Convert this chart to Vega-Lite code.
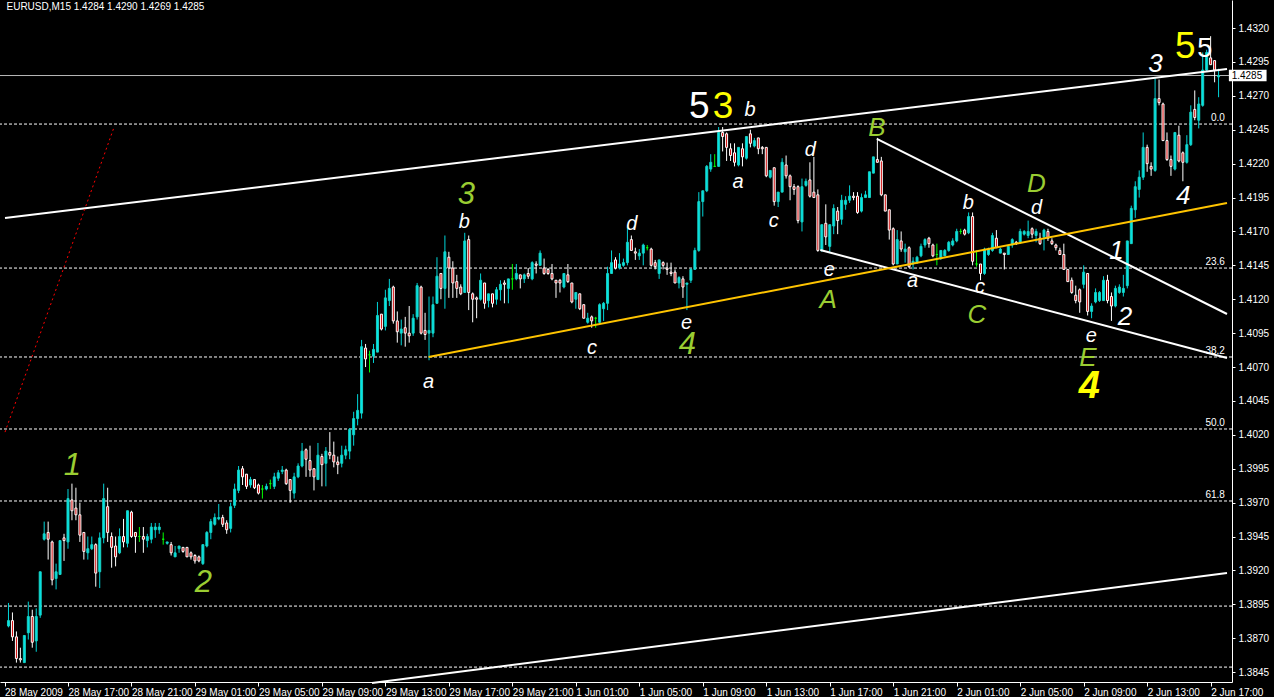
{
"$schema":"https://vega.github.io/schema/vega-lite/v6.json",
"width":1232,"height":682,
"autosize":{"type":"none"},
"padding":{"left":0,"top":0,"right":42,"bottom":15},
"background":"#000000",
"config":{"view":{"stroke":null},"font":"Liberation Sans",
 "axis":{"grid":false,"title":null,"labelColor":"#FFFFFF","tickColor":"#FFFFFF","domainColor":"#FFFFFF","labelFont":"Liberation Sans","labelFontSize":10,"labelOverlap":false,"labelSeparation":0},
 "axisY":{"labelOverlap":false,"labelBound":false},
 "axisQuantitative":{"labelOverlap":false}},
"datasets":{
"candles":[
{"n":0,"o":1.3879,"h":1.3896,"l":1.3878,"c":1.3883},
{"n":1,"o":1.3883,"h":1.3889,"l":1.3868,"c":1.3871},
{"n":2,"o":1.3871,"h":1.3875,"l":1.3852,"c":1.3855},
{"n":3,"o":1.3855,"h":1.3863,"l":1.3852,"c":1.3854},
{"n":4,"o":1.3852,"h":1.3872,"l":1.3852,"c":1.3872},
{"n":5,"o":1.3874,"h":1.3897,"l":1.3869,"c":1.3886},
{"n":6,"o":1.3886,"h":1.3891,"l":1.3863,"c":1.3867},
{"n":7,"o":1.3868,"h":1.3892,"l":1.3860,"c":1.3886},
{"n":8,"o":1.3887,"h":1.3919,"l":1.3885,"c":1.3919},
{"n":9,"o":1.3943,"h":1.3956,"l":1.3942,"c":1.3947},
{"n":10,"o":1.3948,"h":1.3956,"l":1.3928,"c":1.3943},
{"n":11,"o":1.3941,"h":1.3942,"l":1.3909,"c":1.3913},
{"n":12,"o":1.3914,"h":1.3925,"l":1.3906,"c":1.3919},
{"n":13,"o":1.3917,"h":1.3942,"l":1.3917,"c":1.3942},
{"n":14,"o":1.3944,"h":1.3947,"l":1.3927,"c":1.3942},
{"n":15,"o":1.3941,"h":1.3980,"l":1.3936,"c":1.3973},
{"n":16,"o":1.3972,"h":1.3984,"l":1.3957,"c":1.3964},
{"n":17,"o":1.3966,"h":1.3981,"l":1.3957,"c":1.3961},
{"n":18,"o":1.3961,"h":1.3970,"l":1.3941,"c":1.3946},
{"n":19,"o":1.3948,"h":1.3948,"l":1.3928,"c":1.3934},
{"n":20,"o":1.3933,"h":1.3945,"l":1.3928,"c":1.3936},
{"n":21,"o":1.3936,"h":1.3945,"l":1.3935,"c":1.3939},
{"n":22,"o":1.3939,"h":1.3940,"l":1.3908,"c":1.3918},
{"n":23,"o":1.3919,"h":1.3948,"l":1.3907,"c":1.3944},
{"n":24,"o":1.3944,"h":1.3984,"l":1.3940,"c":1.3973},
{"n":25,"o":1.3967,"h":1.3981,"l":1.3941,"c":1.3948},
{"n":26,"o":1.3945,"h":1.3948,"l":1.3922,"c":1.3937},
{"n":27,"o":1.3938,"h":1.3945,"l":1.3923,"c":1.3930},
{"n":28,"o":1.3933,"h":1.3951,"l":1.3932,"c":1.3945},
{"n":29,"o":1.3945,"h":1.3958,"l":1.3937,"c":1.3941},
{"n":30,"o":1.3940,"h":1.3964,"l":1.3937,"c":1.3964},
{"n":31,"o":1.3963,"h":1.3964,"l":1.3944,"c":1.3945},
{"n":32,"o":1.3948,"h":1.3948,"l":1.3933,"c":1.3945},
{"n":33,"o":1.3945,"h":1.3952,"l":1.3941,"c":1.3945},
{"n":34,"o":1.3945,"h":1.3952,"l":1.3933,"c":1.3943},
{"n":35,"o":1.3942,"h":1.3947,"l":1.3937,"c":1.3945},
{"n":36,"o":1.3943,"h":1.3955,"l":1.3940,"c":1.3952},
{"n":37,"o":1.3950,"h":1.3955,"l":1.3944,"c":1.3952},
{"n":38,"o":1.3950,"h":1.3955,"l":1.3947,"c":1.3952},
{"n":39,"o":1.3943,"h":1.3948,"l":1.3939,"c":1.3943},
{"n":40,"o":1.3940,"h":1.3941,"l":1.3939,"c":1.3941},
{"n":41,"o":1.3939,"h":1.3941,"l":1.3931,"c":1.3933},
{"n":42,"o":1.3930,"h":1.3938,"l":1.3930,"c":1.3933},
{"n":43,"o":1.3936,"h":1.3938,"l":1.3933,"c":1.3938},
{"n":44,"o":1.3937,"h":1.3937,"l":1.3933,"c":1.3934},
{"n":45,"o":1.3937,"h":1.3937,"l":1.3930,"c":1.3930},
{"n":46,"o":1.3933,"h":1.3934,"l":1.3928,"c":1.3930},
{"n":47,"o":1.3931,"h":1.3932,"l":1.3925,"c":1.3927},
{"n":48,"o":1.3930,"h":1.3931,"l":1.3926,"c":1.3927},
{"n":49,"o":1.3925,"h":1.3939,"l":1.3924,"c":1.3939},
{"n":50,"o":1.3938,"h":1.3949,"l":1.3937,"c":1.3948},
{"n":51,"o":1.3948,"h":1.3958,"l":1.3943,"c":1.3956},
{"n":52,"o":1.3954,"h":1.3962,"l":1.3953,"c":1.3959},
{"n":53,"o":1.3958,"h":1.3969,"l":1.3957,"c":1.3959},
{"n":54,"o":1.3959,"h":1.3961,"l":1.3952,"c":1.3954},
{"n":55,"o":1.3955,"h":1.3957,"l":1.3947,"c":1.3950},
{"n":56,"o":1.3951,"h":1.3970,"l":1.3948,"c":1.3967},
{"n":57,"o":1.3968,"h":1.3984,"l":1.3966,"c":1.3980},
{"n":58,"o":1.3979,"h":1.3997,"l":1.3977,"c":1.3994},
{"n":59,"o":1.3995,"h":1.3997,"l":1.3983,"c":1.3989},
{"n":60,"o":1.3991,"h":1.3991,"l":1.3980,"c":1.3982},
{"n":61,"o":1.3983,"h":1.3989,"l":1.3981,"c":1.3987},
{"n":62,"o":1.3987,"h":1.3987,"l":1.3980,"c":1.3981},
{"n":63,"o":1.3983,"h":1.3984,"l":1.3976,"c":1.3977},
{"n":64,"o":1.3980,"h":1.3983,"l":1.3973,"c":1.3980},
{"n":65,"o":1.3980,"h":1.3984,"l":1.3979,"c":1.3982},
{"n":66,"o":1.3984,"h":1.3987,"l":1.3980,"c":1.3984},
{"n":67,"o":1.3982,"h":1.3992,"l":1.3980,"c":1.3989},
{"n":68,"o":1.3988,"h":1.3994,"l":1.3986,"c":1.3992},
{"n":69,"o":1.3993,"h":1.3997,"l":1.3991,"c":1.3994},
{"n":70,"o":1.3994,"h":1.3995,"l":1.3983,"c":1.3984},
{"n":71,"o":1.3987,"h":1.3987,"l":1.3970,"c":1.3979},
{"n":72,"o":1.3977,"h":1.3992,"l":1.3973,"c":1.3989},
{"n":73,"o":1.3989,"h":1.3999,"l":1.3988,"c":1.3997},
{"n":74,"o":1.3997,"h":1.4014,"l":1.3996,"c":1.4008},
{"n":75,"o":1.4009,"h":1.4010,"l":1.3989,"c":1.4002},
{"n":76,"o":1.4001,"h":1.4012,"l":1.3989,"c":1.3994},
{"n":77,"o":1.3995,"h":1.3995,"l":1.3979,"c":1.3989},
{"n":78,"o":1.3987,"h":1.4014,"l":1.3987,"c":1.4005},
{"n":79,"o":1.4004,"h":1.4006,"l":1.3982,"c":1.3998},
{"n":80,"o":1.3999,"h":1.4011,"l":1.3982,"c":1.4008},
{"n":81,"o":1.4007,"h":1.4022,"l":1.4002,"c":1.4005},
{"n":82,"o":1.4005,"h":1.4015,"l":1.3996,"c":1.4000},
{"n":83,"o":1.4000,"h":1.4004,"l":1.3991,"c":1.3998},
{"n":84,"o":1.3999,"h":1.4012,"l":1.3996,"c":1.4005},
{"n":85,"o":1.4005,"h":1.4012,"l":1.4002,"c":1.4009},
{"n":86,"o":1.4008,"h":1.4025,"l":1.4002,"c":1.4024},
{"n":87,"o":1.4020,"h":1.4037,"l":1.4012,"c":1.4032},
{"n":88,"o":1.4032,"h":1.4050,"l":1.4027,"c":1.4038},
{"n":89,"o":1.4036,"h":1.4090,"l":1.4032,"c":1.4085},
{"n":90,"o":1.4084,"h":1.4087,"l":1.4070,"c":1.4076},
{"n":91,"o":1.4079,"h":1.4082,"l":1.4066,"c":1.4079},
{"n":92,"o":1.4078,"h":1.4087,"l":1.4073,"c":1.4083},
{"n":93,"o":1.4081,"h":1.4118,"l":1.4081,"c":1.4108},
{"n":94,"o":1.4109,"h":1.4109,"l":1.4097,"c":1.4098},
{"n":95,"o":1.4100,"h":1.4127,"l":1.4097,"c":1.4121},
{"n":96,"o":1.4119,"h":1.4135,"l":1.4115,"c":1.4128},
{"n":97,"o":1.4129,"h":1.4130,"l":1.4102,"c":1.4104},
{"n":98,"o":1.4104,"h":1.4111,"l":1.4088,"c":1.4096},
{"n":99,"o":1.4095,"h":1.4105,"l":1.4086,"c":1.4098},
{"n":100,"o":1.4099,"h":1.4107,"l":1.4085,"c":1.4095},
{"n":101,"o":1.4095,"h":1.4115,"l":1.4088,"c":1.4093},
{"n":102,"o":1.4095,"h":1.4109,"l":1.4093,"c":1.4106},
{"n":103,"o":1.4107,"h":1.4132,"l":1.4105,"c":1.4130},
{"n":104,"o":1.4129,"h":1.4130,"l":1.4094,"c":1.4095},
{"n":105,"o":1.4097,"h":1.4110,"l":1.4090,"c":1.4094},
{"n":106,"o":1.4095,"h":1.4122,"l":1.4075,"c":1.4097},
{"n":107,"o":1.4095,"h":1.4122,"l":1.4092,"c":1.4116},
{"n":108,"o":1.4117,"h":1.4151,"l":1.4117,"c":1.4137},
{"n":109,"o":1.4139,"h":1.4139,"l":1.4120,"c":1.4128},
{"n":110,"o":1.4128,"h":1.4167,"l":1.4113,"c":1.4155},
{"n":111,"o":1.4151,"h":1.4155,"l":1.4121,"c":1.4143},
{"n":112,"o":1.4143,"h":1.4148,"l":1.4121,"c":1.4132},
{"n":113,"o":1.4133,"h":1.4138,"l":1.4121,"c":1.4128},
{"n":114,"o":1.4129,"h":1.4131,"l":1.4123,"c":1.4124},
{"n":115,"o":1.4125,"h":1.4169,"l":1.4125,"c":1.4163},
{"n":116,"o":1.4164,"h":1.4167,"l":1.4112,"c":1.4125},
{"n":117,"o":1.4124,"h":1.4125,"l":1.4103,"c":1.4120},
{"n":118,"o":1.4121,"h":1.4122,"l":1.4106,"c":1.4120},
{"n":119,"o":1.4120,"h":1.4139,"l":1.4119,"c":1.4134},
{"n":120,"o":1.4132,"h":1.4132,"l":1.4113,"c":1.4117},
{"n":121,"o":1.4119,"h":1.4124,"l":1.4114,"c":1.4124},
{"n":122,"o":1.4124,"h":1.4124,"l":1.4114,"c":1.4117},
{"n":123,"o":1.4120,"h":1.4129,"l":1.4116,"c":1.4127},
{"n":124,"o":1.4127,"h":1.4134,"l":1.4119,"c":1.4131},
{"n":125,"o":1.4132,"h":1.4134,"l":1.4117,"c":1.4131},
{"n":126,"o":1.4128,"h":1.4135,"l":1.4117,"c":1.4135},
{"n":127,"o":1.4135,"h":1.4146,"l":1.4127,"c":1.4135},
{"n":128,"o":1.4135,"h":1.4146,"l":1.4134,"c":1.4139},
{"n":129,"o":1.4138,"h":1.4138,"l":1.4128,"c":1.4135},
{"n":130,"o":1.4135,"h":1.4139,"l":1.4132,"c":1.4138},
{"n":131,"o":1.4139,"h":1.4143,"l":1.4135,"c":1.4137},
{"n":132,"o":1.4135,"h":1.4148,"l":1.4134,"c":1.4147},
{"n":133,"o":1.4146,"h":1.4148,"l":1.4139,"c":1.4145},
{"n":134,"o":1.4145,"h":1.4156,"l":1.4145,"c":1.4154},
{"n":135,"o":1.4143,"h":1.4150,"l":1.4138,"c":1.4139},
{"n":136,"o":1.4142,"h":1.4143,"l":1.4138,"c":1.4139},
{"n":137,"o":1.4139,"h":1.4146,"l":1.4134,"c":1.4135},
{"n":138,"o":1.4134,"h":1.4134,"l":1.4121,"c":1.4132},
{"n":139,"o":1.4134,"h":1.4135,"l":1.4125,"c":1.4132},
{"n":140,"o":1.4129,"h":1.4139,"l":1.4128,"c":1.4139},
{"n":141,"o":1.4138,"h":1.4146,"l":1.4132,"c":1.4133},
{"n":142,"o":1.4132,"h":1.4132,"l":1.4117,"c":1.4118},
{"n":143,"o":1.4120,"h":1.4125,"l":1.4113,"c":1.4125},
{"n":144,"o":1.4124,"h":1.4124,"l":1.4112,"c":1.4113},
{"n":145,"o":1.4116,"h":1.4116,"l":1.4106,"c":1.4106},
{"n":146,"o":1.4103,"h":1.4110,"l":1.4102,"c":1.4106},
{"n":147,"o":1.4107,"h":1.4108,"l":1.4099,"c":1.4104},
{"n":148,"o":1.4106,"h":1.4107,"l":1.4099,"c":1.4106},
{"n":149,"o":1.4103,"h":1.4117,"l":1.4102,"c":1.4116},
{"n":150,"o":1.4113,"h":1.4118,"l":1.4104,"c":1.4117},
{"n":151,"o":1.4117,"h":1.4144,"l":1.4112,"c":1.4139},
{"n":152,"o":1.4139,"h":1.4156,"l":1.4139,"c":1.4147},
{"n":153,"o":1.4149,"h":1.4151,"l":1.4142,"c":1.4143},
{"n":154,"o":1.4143,"h":1.4154,"l":1.4142,"c":1.4146},
{"n":155,"o":1.4145,"h":1.4150,"l":1.4144,"c":1.4147},
{"n":156,"o":1.4147,"h":1.4173,"l":1.4145,"c":1.4162},
{"n":157,"o":1.4164,"h":1.4167,"l":1.4156,"c":1.4156},
{"n":158,"o":1.4155,"h":1.4158,"l":1.4149,"c":1.4154},
{"n":159,"o":1.4152,"h":1.4157,"l":1.4149,"c":1.4154},
{"n":160,"o":1.4154,"h":1.4161,"l":1.4145,"c":1.4160},
{"n":161,"o":1.4158,"h":1.4160,"l":1.4156,"c":1.4158},
{"n":162,"o":1.4157,"h":1.4158,"l":1.4144,"c":1.4145},
{"n":163,"o":1.4147,"h":1.4149,"l":1.4142,"c":1.4144},
{"n":164,"o":1.4139,"h":1.4149,"l":1.4135,"c":1.4149},
{"n":165,"o":1.4147,"h":1.4148,"l":1.4142,"c":1.4145},
{"n":166,"o":1.4143,"h":1.4147,"l":1.4138,"c":1.4142},
{"n":167,"o":1.4140,"h":1.4147,"l":1.4137,"c":1.4139},
{"n":168,"o":1.4140,"h":1.4142,"l":1.4132,"c":1.4132},
{"n":169,"o":1.4132,"h":1.4137,"l":1.4128,"c":1.4136},
{"n":170,"o":1.4135,"h":1.4137,"l":1.4121,"c":1.4129},
{"n":171,"o":1.4131,"h":1.4132,"l":1.4112,"c":1.4132},
{"n":172,"o":1.4134,"h":1.4143,"l":1.4132,"c":1.4142},
{"n":173,"o":1.4142,"h":1.4158,"l":1.4142,"c":1.4156},
{"n":174,"o":1.4156,"h":1.4199,"l":1.4155,"c":1.4192},
{"n":175,"o":1.4192,"h":1.4200,"l":1.4181,"c":1.4200},
{"n":176,"o":1.4200,"h":1.4219,"l":1.4199,"c":1.4218},
{"n":177,"o":1.4216,"h":1.4227,"l":1.4214,"c":1.4221},
{"n":178,"o":1.4218,"h":1.4227,"l":1.4218,"c":1.4218},
{"n":179,"o":1.4218,"h":1.4247,"l":1.4218,"c":1.4243},
{"n":180,"o":1.4243,"h":1.4247,"l":1.4229,"c":1.4240},
{"n":181,"o":1.4242,"h":1.4243,"l":1.4222,"c":1.4232},
{"n":182,"o":1.4231,"h":1.4235,"l":1.4222,"c":1.4226},
{"n":183,"o":1.4228,"h":1.4235,"l":1.4218,"c":1.4221},
{"n":184,"o":1.4219,"h":1.4232,"l":1.4218,"c":1.4232},
{"n":185,"o":1.4231,"h":1.4235,"l":1.4218,"c":1.4225},
{"n":186,"o":1.4224,"h":1.4240,"l":1.4223,"c":1.4240},
{"n":187,"o":1.4242,"h":1.4245,"l":1.4232,"c":1.4235},
{"n":188,"o":1.4233,"h":1.4239,"l":1.4232,"c":1.4237},
{"n":189,"o":1.4239,"h":1.4239,"l":1.4227,"c":1.4231},
{"n":190,"o":1.4232,"h":1.4233,"l":1.4227,"c":1.4231},
{"n":191,"o":1.4232,"h":1.4232,"l":1.4210,"c":1.4211},
{"n":192,"o":1.4210,"h":1.4215,"l":1.4209,"c":1.4215},
{"n":193,"o":1.4217,"h":1.4217,"l":1.4189,"c":1.4192},
{"n":194,"o":1.4192,"h":1.4199,"l":1.4188,"c":1.4199},
{"n":195,"o":1.4199,"h":1.4224,"l":1.4199,"c":1.4221},
{"n":196,"o":1.4219,"h":1.4226,"l":1.4209,"c":1.4211},
{"n":197,"o":1.4211,"h":1.4212,"l":1.4193,"c":1.4203},
{"n":198,"o":1.4203,"h":1.4205,"l":1.4197,"c":1.4201},
{"n":199,"o":1.4203,"h":1.4204,"l":1.4176,"c":1.4178},
{"n":200,"o":1.4177,"h":1.4209,"l":1.4170,"c":1.4203},
{"n":201,"o":1.4204,"h":1.4209,"l":1.4203,"c":1.4207},
{"n":202,"o":1.4208,"h":1.4221,"l":1.4195,"c":1.4196},
{"n":203,"o":1.4199,"h":1.4225,"l":1.4195,"c":1.4195},
{"n":204,"o":1.4197,"h":1.4201,"l":1.4155,"c":1.4156},
{"n":205,"o":1.4156,"h":1.4175,"l":1.4155,"c":1.4175},
{"n":206,"o":1.4176,"h":1.4190,"l":1.4160,"c":1.4166},
{"n":207,"o":1.4159,"h":1.4175,"l":1.4155,"c":1.4175},
{"n":208,"o":1.4174,"h":1.4190,"l":1.4168,"c":1.4187},
{"n":209,"o":1.4185,"h":1.4188,"l":1.4168,"c":1.4178},
{"n":210,"o":1.4179,"h":1.4197,"l":1.4175,"c":1.4193},
{"n":211,"o":1.4190,"h":1.4196,"l":1.4186,"c":1.4193},
{"n":212,"o":1.4193,"h":1.4204,"l":1.4191,"c":1.4196},
{"n":213,"o":1.4196,"h":1.4199,"l":1.4193,"c":1.4195},
{"n":214,"o":1.4196,"h":1.4199,"l":1.4183,"c":1.4184},
{"n":215,"o":1.4185,"h":1.4198,"l":1.4184,"c":1.4195},
{"n":216,"o":1.4195,"h":1.4200,"l":1.4195,"c":1.4197},
{"n":217,"o":1.4195,"h":1.4214,"l":1.4195,"c":1.4214},
{"n":218,"o":1.4213,"h":1.4225,"l":1.4213,"c":1.4225},
{"n":219,"o":1.4223,"h":1.4239,"l":1.4221,"c":1.4221},
{"n":220,"o":1.4222,"h":1.4225,"l":1.4196,"c":1.4197},
{"n":221,"o":1.4197,"h":1.4197,"l":1.4185,"c":1.4185},
{"n":222,"o":1.4186,"h":1.4186,"l":1.4164,"c":1.4171},
{"n":223,"o":1.4172,"h":1.4173,"l":1.4145,"c":1.4146},
{"n":224,"o":1.4146,"h":1.4171,"l":1.4146,"c":1.4164},
{"n":225,"o":1.4163,"h":1.4170,"l":1.4155,"c":1.4157},
{"n":226,"o":1.4155,"h":1.4161,"l":1.4147,"c":1.4157},
{"n":227,"o":1.4158,"h":1.4159,"l":1.4143,"c":1.4144},
{"n":228,"o":1.4146,"h":1.4151,"l":1.4142,"c":1.4148},
{"n":229,"o":1.4147,"h":1.4152,"l":1.4146,"c":1.4151},
{"n":230,"o":1.4152,"h":1.4161,"l":1.4151,"c":1.4159},
{"n":231,"o":1.4160,"h":1.4165,"l":1.4158,"c":1.4164},
{"n":232,"o":1.4165,"h":1.4166,"l":1.4158,"c":1.4161},
{"n":233,"o":1.4160,"h":1.4161,"l":1.4151,"c":1.4152},
{"n":234,"o":1.4153,"h":1.4161,"l":1.4145,"c":1.4153},
{"n":235,"o":1.4150,"h":1.4156,"l":1.4149,"c":1.4156},
{"n":236,"o":1.4152,"h":1.4157,"l":1.4152,"c":1.4156},
{"n":237,"o":1.4156,"h":1.4163,"l":1.4155,"c":1.4162},
{"n":238,"o":1.4160,"h":1.4165,"l":1.4159,"c":1.4163},
{"n":239,"o":1.4163,"h":1.4172,"l":1.4162,"c":1.4170},
{"n":240,"o":1.4170,"h":1.4172,"l":1.4168,"c":1.4170},
{"n":241,"o":1.4171,"h":1.4172,"l":1.4167,"c":1.4168},
{"n":242,"o":1.4169,"h":1.4184,"l":1.4168,"c":1.4181},
{"n":243,"o":1.4181,"h":1.4184,"l":1.4145,"c":1.4148},
{"n":244,"o":1.4146,"h":1.4156,"l":1.4144,"c":1.4146},
{"n":245,"o":1.4146,"h":1.4146,"l":1.4134,"c":1.4139},
{"n":246,"o":1.4139,"h":1.4158,"l":1.4138,"c":1.4157},
{"n":247,"o":1.4153,"h":1.4158,"l":1.4152,"c":1.4157},
{"n":248,"o":1.4156,"h":1.4169,"l":1.4155,"c":1.4167},
{"n":249,"o":1.4165,"h":1.4171,"l":1.4158,"c":1.4158},
{"n":250,"o":1.4154,"h":1.4158,"l":1.4154,"c":1.4157},
{"n":251,"o":1.4154,"h":1.4154,"l":1.4142,"c":1.4153},
{"n":252,"o":1.4153,"h":1.4160,"l":1.4153,"c":1.4159},
{"n":253,"o":1.4160,"h":1.4165,"l":1.4158,"c":1.4164},
{"n":254,"o":1.4162,"h":1.4163,"l":1.4160,"c":1.4161},
{"n":255,"o":1.4162,"h":1.4172,"l":1.4161,"c":1.4170},
{"n":256,"o":1.4168,"h":1.4171,"l":1.4167,"c":1.4170},
{"n":257,"o":1.4167,"h":1.4178,"l":1.4165,"c":1.4170},
{"n":258,"o":1.4172,"h":1.4173,"l":1.4165,"c":1.4168},
{"n":259,"o":1.4167,"h":1.4172,"l":1.4162,"c":1.4170},
{"n":260,"o":1.4165,"h":1.4169,"l":1.4160,"c":1.4161},
{"n":261,"o":1.4166,"h":1.4172,"l":1.4156,"c":1.4171},
{"n":262,"o":1.4170,"h":1.4172,"l":1.4163,"c":1.4165},
{"n":263,"o":1.4163,"h":1.4165,"l":1.4160,"c":1.4161},
{"n":264,"o":1.4160,"h":1.4161,"l":1.4156,"c":1.4158},
{"n":265,"o":1.4156,"h":1.4158,"l":1.4153,"c":1.4153},
{"n":266,"o":1.4153,"h":1.4161,"l":1.4142,"c":1.4142},
{"n":267,"o":1.4142,"h":1.4142,"l":1.4133,"c":1.4133},
{"n":268,"o":1.4134,"h":1.4136,"l":1.4124,"c":1.4125},
{"n":269,"o":1.4123,"h":1.4130,"l":1.4117,"c":1.4119},
{"n":270,"o":1.4127,"h":1.4128,"l":1.4110,"c":1.4118},
{"n":271,"o":1.4131,"h":1.4145,"l":1.4128,"c":1.4140},
{"n":272,"o":1.4139,"h":1.4139,"l":1.4108,"c":1.4111},
{"n":273,"o":1.4111,"h":1.4117,"l":1.4106,"c":1.4115},
{"n":274,"o":1.4118,"h":1.4128,"l":1.4117,"c":1.4125},
{"n":275,"o":1.4119,"h":1.4126,"l":1.4118,"c":1.4125},
{"n":276,"o":1.4119,"h":1.4137,"l":1.4119,"c":1.4134},
{"n":277,"o":1.4134,"h":1.4138,"l":1.4117,"c":1.4119},
{"n":278,"o":1.4122,"h":1.4125,"l":1.4104,"c":1.4115},
{"n":279,"o":1.4115,"h":1.4130,"l":1.4114,"c":1.4128},
{"n":280,"o":1.4125,"h":1.4131,"l":1.4124,"c":1.4129},
{"n":281,"o":1.4125,"h":1.4138,"l":1.4122,"c":1.4128},
{"n":282,"o":1.4130,"h":1.4163,"l":1.4128,"c":1.4163},
{"n":283,"o":1.4161,"h":1.4189,"l":1.4161,"c":1.4187},
{"n":284,"o":1.4186,"h":1.4207,"l":1.4180,"c":1.4203},
{"n":285,"o":1.4201,"h":1.4215,"l":1.4195,"c":1.4210},
{"n":286,"o":1.4210,"h":1.4243,"l":1.4208,"c":1.4232},
{"n":287,"o":1.4232,"h":1.4234,"l":1.4214,"c":1.4220},
{"n":288,"o":1.4218,"h":1.4221,"l":1.4211,"c":1.4216},
{"n":289,"o":1.4215,"h":1.4283,"l":1.4214,"c":1.4268},
{"n":290,"o":1.4268,"h":1.4282,"l":1.4263,"c":1.4265},
{"n":291,"o":1.4264,"h":1.4265,"l":1.4237,"c":1.4237},
{"n":292,"o":1.4237,"h":1.4243,"l":1.4222,"c":1.4223},
{"n":293,"o":1.4223,"h":1.4226,"l":1.4211,"c":1.4218},
{"n":294,"o":1.4216,"h":1.4243,"l":1.4215,"c":1.4243},
{"n":295,"o":1.4241,"h":1.4248,"l":1.4221,"c":1.4222},
{"n":296,"o":1.4228,"h":1.4229,"l":1.4207,"c":1.4221},
{"n":297,"o":1.4221,"h":1.4241,"l":1.4220,"c":1.4234},
{"n":298,"o":1.4234,"h":1.4263,"l":1.4233,"c":1.4258},
{"n":299,"o":1.4260,"h":1.4274,"l":1.4252,"c":1.4254},
{"n":300,"o":1.4252,"h":1.4269,"l":1.4246,"c":1.4264},
{"n":301,"o":1.4263,"h":1.4302,"l":1.4262,"c":1.4289},
{"n":302,"o":1.4289,"h":1.4304,"l":1.4288,"c":1.4302},
{"n":303,"o":1.4298,"h":1.4314,"l":1.4293,"c":1.4293},
{"n":304,"o":1.4296,"h":1.4296,"l":1.4280,"c":1.4289},
{"n":305,"o":1.4284,"h":1.4290,"l":1.4269,"c":1.4285}
],
"fib":[
{"label":"0.0","p":1.42492},{"label":"23.6","p":1.4143},{"label":"38.2","p":1.40774},
{"label":"50.0","p":1.40243},{"label":"61.8","p":1.39712},{"label":"","p":1.38937},{"label":"","p":1.38487}
],
"wlines":[
{"id":"upper","n":-0.875,"p":1.41799},{"id":"upper","n":307.125,"p":1.42898},
{"id":"lower","n":91.625,"p":1.38369},{"id":"lower","n":307.125,"p":1.39181},
{"id":"triU","n":218.875,"p":1.42382},{"id":"triU","n":307.125,"p":1.41091},
{"id":"triL","n":204.625,"p":1.41563},{"id":"triL","n":307.125,"p":1.40766}
],
"trend":[{"n":105.875,"p":1.40774},{"n":307.125,"p":1.4191}],
"fan":[{"n":-0.875,"p":1.4022},{"n":26.625,"p":1.4247}],
"minorLetters":[
{"t":"a","n":105.9,"p":1.40589},{"t":"b","n":114.9,"p":1.4177},{"t":"c","n":147.1,"p":1.4084},
{"t":"d","n":157.1,"p":1.41755},{"t":"e","n":170.9,"p":1.41025},{"t":"a","n":183.9,"p":1.42065},
{"t":"b","n":186.9,"p":1.42596},{"t":"c","n":192.9,"p":1.41777},{"t":"d","n":202.1,"p":1.42301},
{"t":"e","n":206.9,"p":1.41415},{"t":"a","n":227.9,"p":1.41334},{"t":"b","n":241.9,"p":1.4191},
{"t":"c","n":244.9,"p":1.4129},{"t":"d","n":259.1,"p":1.41873},{"t":"e","n":272.9,"p":1.40929}
],
"minorWaves":[
{"t":"1","n":279.3,"p":1.41556},{"t":"2","n":281.4,"p":1.41069},{"t":"3","n":289.1,"p":1.42935},{"t":"4","n":296.1,"p":1.41961}
],
"intWaves":[
{"t":"1","n":16.1,"p":1.3997},{"t":"2","n":49.1,"p":1.39107},{"t":"3","n":115.4,"p":1.41969},{"t":"4","n":171.1,"p":1.40862}
],
"intLetters":[
{"t":"A","n":206.6,"p":1.41194},{"t":"B","n":218.9,"p":1.42463},{"t":"C","n":244.1,"p":1.41084},
{"t":"D","n":259.1,"p":1.4205},{"t":"E","n":272.1,"p":1.40766}
],
"primaryWhite":[{"t":"5","n":174.1,"p":1.42618}],
"primaryYellow":[{"t":"3","n":180.1,"p":1.42618},{"t":"5","n":296.6,"p":1.4306}],
"primaryYellow4":[{"t":"4","n":272.4,"p":1.40552}],
"minorTop":[{"t":"5","n":301.5,"p":1.43046}]
},
"layer":[
{"data":{"name":"fib"},"mark":{"type":"rule","color":"#FFFFFF","strokeDash":[3,2],"strokeWidth":1},
 "encoding":{"y":{"field":"p","type":"quantitative","scale":{"domain":[1.38377,1.43407],"nice":false,"zero":false}}}},
{"data":{"name":"fib"},"transform":[{"filter":"datum.label != ''"}],
 "mark":{"type":"text","align":"right","baseline":"bottom","dy":-1,"fontSize":10,"color":"#FFFFFF"},
 "encoding":{"x":{"datum":306.6,"type":"quantitative","scale":{"domain":[-0.875,307.125],"nice":false,"zero":false}},
  "y":{"field":"p","type":"quantitative","scale":{"domain":[1.38377,1.43407],"nice":false,"zero":false}},
  "text":{"field":"label"}}},
{"data":{"values":[{"price":1.4285}]},"mark":{"type":"rule","color":"#B8B8B8","strokeWidth":1},
 "encoding":{"y":{"field":"price","type":"quantitative","scale":{"domain":[1.38377,1.43407],"nice":false,"zero":false}}}},
{"data":{"name":"candles"},
 "transform":[{"calculate":"datum.c > datum.o ? 'up' : (datum.c < datum.o ? 'down' : 'doji')","as":"dir"}],
 "mark":{"type":"rule","strokeWidth":1},
 "encoding":{
  "x":{"field":"n","type":"quantitative","scale":{"domain":[-0.875,307.125],"nice":false,"zero":false},
   "axis":{"orient":"bottom","values":[-1,15,31,47,63,79,95,111,127,143,159,175,191,207,223,239,255,271,287,303],
    "labelExpr":"['28 May 2009','28 May 17:00','28 May 21:00','29 May 01:00','29 May 05:00','29 May 09:00','29 May 13:00','29 May 17:00','29 May 21:00','1 Jun 01:00','1 Jun 05:00','1 Jun 09:00','1 Jun 13:00','1 Jun 17:00','1 Jun 21:00','2 Jun 01:00','2 Jun 05:00','2 Jun 09:00','2 Jun 13:00','2 Jun 17:00'][round((datum.value+1)/16)]",
    "labelAlign":"left","labelFlush":false,"labelOverlap":false,"labelBound":false,"labelColor":"#FFFFFF","labelFontSize":10,
    "labelFont":"Liberation Sans","labelPadding":1,"tickColor":"#FFFFFF","tickSize":4,"domainColor":"#FFFFFF","title":null,"grid":false}},
  "y":{"field":"l","type":"quantitative","scale":{"domain":[1.38377,1.43407],"nice":false,"zero":false},
   "axis":{"orient":"right","values":[1.3845,1.387,1.3895,1.392,1.3945,1.397,1.3995,1.402,1.4045,1.407,1.4095,1.412,1.4145,1.417,1.4195,1.422,1.4245,1.427,1.4295,1.432],
    "tickCount":20,"format":".4f","labelColor":"#FFFFFF","labelFontSize":10,"labelFont":"Liberation Sans","labelPadding":3,"tickColor":"#FFFFFF","tickSize":3,
    "domainColor":"#FFFFFF","labelFlush":false,"labelOverlap":false,"labelBound":false,"title":null,"grid":false}},
  "y2":{"field":"h"},
  "color":{"field":"dir","type":"nominal","scale":{"domain":["up","down","doji"],"range":["#00D5D8","#FFFFFF","#00FF00"]},"legend":null}}},
{"data":{"name":"candles"},
 "transform":[{"calculate":"datum.c > datum.o ? 'up' : (datum.c < datum.o ? 'down' : 'doji')","as":"dir"}],
 "mark":{"type":"bar","width":2,"strokeWidth":1},
 "encoding":{
  "x":{"field":"n","type":"quantitative","scale":{"domain":[-0.875,307.125],"nice":false,"zero":false}},
  "y":{"field":"o","type":"quantitative","scale":{"domain":[1.38377,1.43407],"nice":false,"zero":false}},
  "y2":{"field":"c"},
  "fill":{"field":"dir","type":"nominal","scale":{"domain":["up","down","doji"],"range":["#00E5EE","#D00000","#00FF00"]},"legend":null},
  "stroke":{"field":"dir","type":"nominal","scale":{"domain":["up","down","doji"],"range":["#18D0C0","#FFFFFF","#00FF00"]},"legend":null}}},
{"data":{"name":"wlines"},"mark":{"type":"line","color":"#FFFFFF","strokeWidth":2},
 "encoding":{"x":{"field":"n","type":"quantitative","scale":{"domain":[-0.875,307.125],"nice":false,"zero":false}},
  "y":{"field":"p","type":"quantitative","scale":{"domain":[1.38377,1.43407],"nice":false,"zero":false}},
  "detail":{"field":"id"}}},
{"data":{"name":"trend"},"mark":{"type":"line","color":"#FFC400","strokeWidth":2},
 "encoding":{"x":{"field":"n","type":"quantitative","scale":{"domain":[-0.875,307.125],"nice":false,"zero":false}},
  "y":{"field":"p","type":"quantitative","scale":{"domain":[1.38377,1.43407],"nice":false,"zero":false}}}},
{"data":{"name":"fan"},"mark":{"type":"line","color":"#FF0000","strokeWidth":1,"strokeDash":[2,3]},
 "encoding":{"x":{"field":"n","type":"quantitative","scale":{"domain":[-0.875,307.125],"nice":false,"zero":false}},
  "y":{"field":"p","type":"quantitative","scale":{"domain":[1.38377,1.43407],"nice":false,"zero":false}}}},
{"data":{"name":"minorLetters"},"mark":{"type":"text","fontSize":20,"fontStyle":"italic","color":"#FFFFFF","align":"center","baseline":"middle"},
 "encoding":{"x":{"field":"n","type":"quantitative","scale":{"domain":[-0.875,307.125],"nice":false,"zero":false}},
  "y":{"field":"p","type":"quantitative","scale":{"domain":[1.38377,1.43407],"nice":false,"zero":false}},"text":{"field":"t"}}},
{"data":{"name":"minorWaves"},"mark":{"type":"text","fontSize":26,"fontStyle":"italic","color":"#FFFFFF","align":"center","baseline":"middle"},
 "encoding":{"x":{"field":"n","type":"quantitative","scale":{"domain":[-0.875,307.125],"nice":false,"zero":false}},
  "y":{"field":"p","type":"quantitative","scale":{"domain":[1.38377,1.43407],"nice":false,"zero":false}},"text":{"field":"t"}}},
{"data":{"name":"intWaves"},"mark":{"type":"text","fontSize":31,"fontStyle":"italic","color":"#9ACD32","align":"center","baseline":"middle"},
 "encoding":{"x":{"field":"n","type":"quantitative","scale":{"domain":[-0.875,307.125],"nice":false,"zero":false}},
  "y":{"field":"p","type":"quantitative","scale":{"domain":[1.38377,1.43407],"nice":false,"zero":false}},"text":{"field":"t"}}},
{"data":{"name":"intLetters"},"mark":{"type":"text","fontSize":26,"fontStyle":"italic","color":"#9ACD32","align":"center","baseline":"middle"},
 "encoding":{"x":{"field":"n","type":"quantitative","scale":{"domain":[-0.875,307.125],"nice":false,"zero":false}},
  "y":{"field":"p","type":"quantitative","scale":{"domain":[1.38377,1.43407],"nice":false,"zero":false}},"text":{"field":"t"}}},
{"data":{"name":"primaryWhite"},"mark":{"type":"text","fontSize":37,"color":"#FFFFFF","align":"center","baseline":"middle"},
 "encoding":{"x":{"field":"n","type":"quantitative","scale":{"domain":[-0.875,307.125],"nice":false,"zero":false}},
  "y":{"field":"p","type":"quantitative","scale":{"domain":[1.38377,1.43407],"nice":false,"zero":false}},"text":{"field":"t"}}},
{"data":{"name":"primaryYellow"},"mark":{"type":"text","fontSize":37,"color":"#FFFF00","align":"center","baseline":"middle"},
 "encoding":{"x":{"field":"n","type":"quantitative","scale":{"domain":[-0.875,307.125],"nice":false,"zero":false}},
  "y":{"field":"p","type":"quantitative","scale":{"domain":[1.38377,1.43407],"nice":false,"zero":false}},"text":{"field":"t"}}},
{"data":{"name":"primaryYellow4"},"mark":{"type":"text","fontSize":38,"fontStyle":"italic","fontWeight":"bold","color":"#FFFF00","align":"center","baseline":"middle"},
 "encoding":{"x":{"field":"n","type":"quantitative","scale":{"domain":[-0.875,307.125],"nice":false,"zero":false}},
  "y":{"field":"p","type":"quantitative","scale":{"domain":[1.38377,1.43407],"nice":false,"zero":false}},"text":{"field":"t"}}},
{"data":{"name":"minorTop"},"mark":{"type":"text","fontSize":27,"color":"#FFFFFF","align":"center","baseline":"middle"},
 "encoding":{"x":{"field":"n","type":"quantitative","scale":{"domain":[-0.875,307.125],"nice":false,"zero":false}},
  "y":{"field":"p","type":"quantitative","scale":{"domain":[1.38377,1.43407],"nice":false,"zero":false}},"text":{"field":"t"}}},
{"data":{"values":[{"title":"EURUSD,M15  1.4284 1.4290 1.4269 1.4285"}]},
 "mark":{"type":"text","align":"left","baseline":"middle","fontSize":10,"color":"#FFFFFF"},
 "encoding":{"x":{"datum":-0.5,"type":"quantitative","scale":{"domain":[-0.875,307.125],"nice":false,"zero":false}},
  "y":{"datum":1.43355,"type":"quantitative","scale":{"domain":[1.38377,1.43407],"nice":false,"zero":false}},
  "text":{"field":"title"}}},
{"data":{"values":[{"last":1.4285}]},
 "mark":{"type":"rect","color":"#FFFFFF"},
 "encoding":{"x":{"datum":307.6,"type":"quantitative","scale":{"domain":[-0.875,307.125],"nice":false,"zero":false}},
  "x2":{"datum":317.1},
  "y":{"datum":1.42893,"type":"quantitative","scale":{"domain":[1.38377,1.43407],"nice":false,"zero":false}},
  "y2":{"datum":1.42808}}},
{"data":{"values":[{"last":1.4285}]},
 "mark":{"type":"text","align":"left","baseline":"middle","fontSize":10,"color":"#000000"},
 "encoding":{"x":{"datum":308.3,"type":"quantitative","scale":{"domain":[-0.875,307.125],"nice":false,"zero":false}},
  "y":{"field":"last","type":"quantitative","scale":{"domain":[1.38377,1.43407],"nice":false,"zero":false}},
  "text":{"field":"last","type":"quantitative","format":".4f"}}}
]
}
